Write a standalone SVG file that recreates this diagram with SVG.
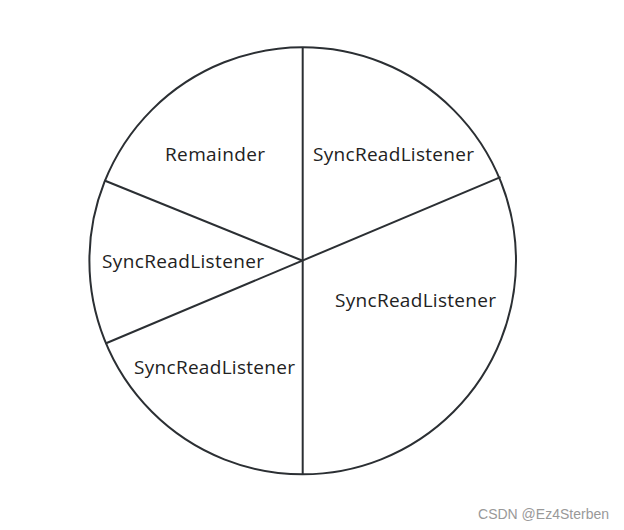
<svg xmlns="http://www.w3.org/2000/svg" width="624" height="530" viewBox="0 0 624 530">
<style>
.l{stroke:#2b2f33;stroke-width:2;fill:none}
.t{font-family:"Open Sans","Noto Sans",sans-serif;font-size:19px;fill:#222}
.w{font-family:"Liberation Sans",Arial,sans-serif;font-size:14px;fill:#999}
</style>
<rect width="624" height="530" fill="#fff"/>
<g id="pie">
<ellipse class="l" cx="302.7" cy="260.8" rx="213.3" ry="213.5"/>
</g>
<g id="connectors">
<line class="l" x1="302.7" y1="47.3" x2="302.7" y2="474.3"/>
<line class="l" x1="104.5" y1="180.5" x2="302.7" y2="260.8"/>
<line class="l" x1="105.5" y1="343.5" x2="500.5" y2="177.2"/>
</g>
<g id="s-remainder"><text class="t" x="165" y="161" textLength="100">Remainder</text></g>
<g id="s-tr"><text class="t" x="313" y="161" textLength="161">SyncReadListener</text></g>
<g id="s-l"><text class="t" x="102" y="268" textLength="162">SyncReadListener</text></g>
<g id="s-r"><text class="t" x="335" y="307" textLength="161">SyncReadListener</text></g>
<g id="s-bl"><text class="t" x="134" y="374" textLength="161">SyncReadListener</text></g>
<text class="w" x="609" y="519" text-anchor="end">CSDN @Ez4Sterben</text>
</svg>
